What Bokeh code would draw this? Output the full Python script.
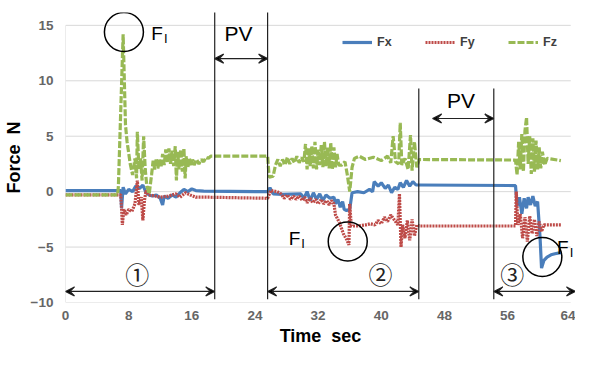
from bokeh.plotting import figure
from bokeh.models import (Range1d, FixedTicker, Legend, LegendItem, Arrow, VeeHead, Label)
from bokeh.embed import file_html
from bokeh.resources import INLINE

# ---- data ----
fx_t = [0, 7.0, 7.1, 7.3, 7.6, 8.0, 8.5, 8.9, 9.4, 9.8, 10.2, 10.6, 11.0, 11.5, 12.0, 12.3, 12.5, 13.0,
        13.5, 14.0, 14.5, 15.0, 15.5, 16.0, 16.5, 17.5, 25.6, 25.9, 26.3, 27.5, 29.8, 30.2, 30.6, 31.0,
        31.4, 31.8, 32.2, 32.6, 33.0, 33.5, 34.0, 34.2, 34.5, 34.8, 35.1, 35.3, 35.6, 36.0, 36.3, 37.0,
        37.8, 38.5, 38.9, 39.1, 39.6, 40.0, 40.5, 40.9, 41.3, 41.7, 42.1, 42.4, 42.8, 43.2, 43.6, 44.0,
        44.4, 44.8, 57.0, 57.2, 57.5, 57.8, 58.1, 58.4, 58.6, 58.9, 59.2, 59.5, 59.8, 60.1, 60.3, 60.6,
        61.0, 61.5, 62.0, 62.75]
fx = [0.1, 0.1, -1.5, 0.4, -0.2, 0.2, 0.0, 0.5, 0.3, 0.6, -0.1, -0.3, -0.4, -0.3, -0.6, -1.2, -0.4, -0.6,
      -0.3, -0.5, -0.1, 0.2, 0.0, 0.25, 0.1, 0.05, 0.0, 0.35, -0.2, -0.25, -0.2, -0.6, 0.0, -0.8,
      -0.1, -0.7, -0.2, -0.8, -0.3, -0.6, -0.5, -1.1, -0.7, -1.4, -0.9, -1.6, -1.7, -1.6, -0.1, 0.0,
      -0.1, 0.2, 0.0, 0.9, 0.5, 0.8, 0.3, 0.6, -0.1, 0.4, 0.2, 0.8, 0.4, 1.0, 0.5, 0.9,
      0.6, 0.6, 0.55, -1.3, -0.5, -2.0, -0.6, -1.5, -0.5, -1.2, -0.4, -1.3, -0.9, -4.0, -6.9, -6.2,
      -5.9, -5.7, -5.6, -5.5]

fy_t = [0, 7.0, 7.1, 7.2, 7.4, 7.7, 8.0, 8.4, 8.8, 9.1, 9.3, 9.6, 9.8, 10.0, 10.2, 10.5, 11.0, 12.0,
        13.0, 14.0, 14.5, 15.2, 15.8, 16.5, 18.0, 25.6, 26.0, 26.8, 27.3, 27.7, 28.1, 28.5, 28.9, 29.2,
        29.6, 30.0, 30.3, 30.6, 31.0, 31.3, 31.7, 32.0, 32.4, 32.7, 33.1, 33.4, 33.7, 34.0, 34.2, 34.7,
        35.2, 35.6, 35.9, 36.0, 36.2, 37.0, 38.0, 38.6, 39.2, 39.6, 40.0, 40.4, 40.8, 41.2, 41.6, 42.1,
        42.3, 42.5, 42.7, 43.0, 43.3, 43.6, 43.9, 44.2, 44.5, 44.8, 57.0, 57.1, 57.3, 57.6, 57.9, 58.2,
        58.5, 58.8, 59.1, 59.4, 59.7, 60.0, 60.3, 60.6, 62.75]
fy = [-0.3, -0.3, -1.5, -3.0, -1.6, -2.1, -1.6, -1.8, -1.1, 1.0, -1.2, -0.5, -2.6, -0.8, 0.1, -0.3, -0.35, -0.5,
      -0.4, -0.2, -0.5, -0.1, -0.3, -0.5, -0.5, -0.6, 0.1, 0.0, -0.2, -0.6, -0.3, -0.7, -0.4, -0.7,
      -0.4, -0.8, -0.5, -1.0, -0.6, -1.0, -0.7, -1.1, -0.7, -1.1, -0.8, -1.2, -0.8, -1.1, -2.1, -2.8,
      -3.8, -4.3, -4.8, -1.1, -3.1, -3.1, -3.0, -2.9, -3.0, -2.6, -2.9, -2.3, -2.7, -2.1, -2.5, -3.0,
      -0.2, -5.0, -3.0, -4.2, -2.6, -4.4, -2.5, -4.0, -3.0, -3.1, -3.1, 0.0, -3.0, -2.0, -4.2, -2.3,
      -4.5, -2.2, -3.8, -2.5, -4.0, -2.7, -3.6, -3.0, -3.0]

fz_t = [0, 6.6, 6.7, 7.3, 7.6, 7.8, 8.2, 8.5, 8.8, 9.0, 9.1, 9.3, 9.5, 9.7, 9.9, 10.1, 10.3, 10.6,
        10.9, 11.1, 11.3, 11.5, 11.7, 11.9, 12.1, 12.3, 12.5, 12.7, 12.9, 13.1, 13.3, 13.5, 13.7, 13.9,
        14.05, 14.2, 14.4, 14.6, 14.8, 15.0, 15.15, 15.3, 15.5, 15.7, 15.9, 16.1, 16.3, 16.6, 16.9, 17.2,
        17.5, 17.8, 18.1, 18.4, 25.6, 25.8, 26.3, 26.6, 26.9, 27.2, 27.5, 27.8, 28.1, 28.4, 28.7, 29.0,
        29.3, 29.6, 29.9, 30.2, 30.4, 30.6, 30.8, 31.0, 31.2, 31.4, 31.6, 31.8, 32.0, 32.2, 32.4, 32.6,
        32.8, 33.0, 33.2, 33.4, 33.6, 33.8, 34.0, 34.2, 34.4, 34.6, 35.0, 35.4, 35.7, 36.0, 36.3, 36.6,
        37.2, 38.0, 39.0, 40.0, 40.8, 41.2, 41.5, 41.8, 42.2, 42.4, 42.6, 43.0, 43.4, 43.7, 43.9, 44.2,
        44.5, 44.8, 57.0, 57.2, 57.4, 57.6, 57.8, 58.0, 58.2, 58.4, 58.6, 58.8, 59.0, 59.2, 59.4, 59.6,
        59.8, 60.0, 60.2, 60.4, 60.7, 61.0, 62.75]
fz = [-0.3, -0.3, 0.5, 14.2, 6.0, 4.5, 2.5, 1.5, 3.0, 1.2, 5.4, 2.0, 3.0, 1.0, 5.0, 2.0, 0.5, -0.2,
      1.5, 2.8, 2.0, 3.0, 2.1, 2.9, 2.2, 3.4, 2.4, 3.8, 2.6, 3.9, 2.5, 3.7, 2.3, 4.1,
      1.0, 3.6, 2.0, 3.8, 1.8, 3.9, 1.2, 3.2, 2.2, 3.0, 2.3, 2.9, 2.4, 2.9, 2.5, 2.9,
      2.7, 3.1, 3.0, 3.2, 3.2, 1.3, 1.4, 2.4, 2.9, 2.3, 2.9, 2.4, 3.1, 2.5, 3.0, 2.6,
      3.2, 2.6, 3.1, 2.7, 4.3, 2.0, 3.9, 2.3, 4.1, 2.1, 4.5, 2.0, 3.8, 2.4, 4.2, 2.2,
      4.5, 2.3, 4.0, 2.1, 4.4, 2.0, 4.0, 2.2, 3.4, 2.4, 2.4, 2.7, 1.5, 0.0, 2.2, 3.0,
      3.2, 2.9, 3.1, 2.8, 3.2, 2.6, 5.0, 2.7, 2.5, 6.2, 2.4, 3.0, 2.0, 5.1, 1.9, 4.5,
      2.2, 2.9, 2.85, 1.5, 4.5, 2.0, 5.2, 1.8, 5.5, 6.7, 2.5, 5.0, 1.6, 4.8, 1.8, 4.6,
      2.0, 4.0, 2.1, 3.6, 2.4, 3.0, 2.8]

x_ticks = [0, 8, 16, 24, 32, 40, 48, 56, 64]
y_ticks = [-10, -5, 0, 5, 10, 15]

# phase boundaries (time, s) and annotations
bounds = [18.9, 25.6, 44.75, 54.25]
bound_tops = [16.2, 16.2, 9.3, 9.3]
pv_arrows = [(18.9, 25.6, 12.0), (46.5, 54.25, 6.6)]
pv_labels = [(21.9, 14.3), (50.1, 8.2)]
phase_arrows = [(0, 18.9), (25.6, 44.75), (54.25, 64.6)]
phase_y = -9.0
phase_marks = ["①", "②", "③"]
phase_mark_x = [9.1, 39.9, 56.6]
circle_t = [7.4, 35.75, 60.4]
circle_y = [14.4, -4.5, -5.9]
fi_pos = [(11.6, 14.3), (29.0, -4.2), (63.0, -5.0)]

BLUE = "#4a7ebb"
RED = "#be4b48"
GREEN = "#98b954"
GRID = "#d9d9d9"

p = figure(width=575, height=349, output_backend="svg", toolbar_location=None,
           x_range=Range1d(0, 64.6), y_range=Range1d(-10, 16.16),
           min_border_left=65, min_border_right=0, min_border_top=12, min_border_bottom=47)
p.outline_line_color = None
p.xgrid.visible = False
p.ygrid.visible = False

# grid lines (stop at 64 like the original) and left axis line
p.segment(x0=[0] * len(y_ticks), x1=[64] * len(y_ticks), y0=y_ticks, y1=y_ticks,
          line_color=GRID, line_width=1)
p.segment(x0=[0], x1=[0], y0=[-10], y1=[15], line_color=GRID, line_width=1)

for ax in (p.xaxis[0], p.yaxis[0]):
    ax.axis_line_color = None
    ax.major_tick_line_color = None
    ax.minor_tick_line_color = None
    ax.major_tick_out = 0
    ax.major_tick_in = 0
    ax.major_label_text_font = "Liberation Sans"
    ax.major_label_text_font_style = "bold"
    ax.major_label_text_font_size = "13.5px"
    ax.major_label_text_color = "#666666"
    ax.axis_label_text_font = "Liberation Sans"
    ax.axis_label_text_font_style = "bold"
    ax.axis_label_text_font_size = "18px"
    ax.axis_label_text_color = "black"

p.xaxis[0].ticker = FixedTicker(ticks=x_ticks)
p.yaxis[0].ticker = FixedTicker(ticks=y_ticks)
p.xaxis[0].axis_label = "Time\u00a0\u00a0sec"
p.yaxis[0].axis_label = "Force\u00a0\u00a0N"
p.xaxis[0].major_label_standoff = 8
p.xaxis[0].axis_label_standoff = 3
p.yaxis[0].major_label_standoff = 12
p.yaxis[0].axis_label_standoff = 4

r_fx = p.line(fx_t, fx, line_color=BLUE, line_width=3.2)
r_fy = p.line(fy_t, fy, line_color=RED, line_width=3.2, line_dash="2 1")
r_fz = p.line(fz_t, fz, line_color=GREEN, line_width=3.2, line_dash="7 2")

# phase boundaries
p.segment(x0=bounds, x1=bounds, y0=[-9.7] * len(bounds), y1=bound_tops,
          line_color="#222222", line_width=1.2)

for x0, x1, yy in pv_arrows:
    p.add_layout(Arrow(x_start=x0, x_end=x1, y_start=yy, y_end=yy, line_width=1.2,
                       line_color="#222222",
                       start=VeeHead(size=9, line_width=1.2, line_color="#222222"),
                       end=VeeHead(size=9, line_width=1.2, line_color="#222222")))
for (lx, ly) in pv_labels:
    p.add_layout(Label(x=lx, y=ly, text="PV", text_align="center", text_baseline="middle",
                       text_font="Liberation Sans", text_font_size="21px", text_color="black"))

for (x0, x1), mx, mk in zip(phase_arrows, phase_mark_x, phase_marks):
    p.add_layout(Arrow(x_start=x0, x_end=x1, y_start=phase_y, y_end=phase_y, line_width=1.2,
                       line_color="#222222",
                       start=VeeHead(size=9, line_width=1.2, line_color="#222222"),
                       end=VeeHead(size=9, line_width=1.2, line_color="#222222")))
    p.add_layout(Label(x=mx, y=-7.4, text=mk, text_align="center", text_baseline="middle",
                       text_font="Noto Sans CJK JP", text_font_size="24px", text_color="#222222"))

p.scatter(circle_t, circle_y, marker="circle", size=39, fill_color=None,
          line_color="black", line_width=1.5)
for (fx0, fy0) in fi_pos:
    p.add_layout(Label(x=fx0, y=fy0, text="F", text_align="center", text_baseline="middle",
                       text_font="Liberation Sans", text_font_size="19px", text_color="black"))
    p.add_layout(Label(x=fx0 + 1.1, y=fy0 - 0.45, text="I", text_align="center",
                       text_baseline="middle", text_font="Liberation Sans",
                       text_font_size="13px", text_color="black"))

legend = Legend(items=[LegendItem(label="Fx", renderers=[r_fx]),
                       LegendItem(label="Fy", renderers=[r_fy]),
                       LegendItem(label="Fz", renderers=[r_fz])],
                orientation="horizontal", location=(277, 253),
                border_line_color=None, background_fill_alpha=0,
                padding=0, margin=0, spacing=28, glyph_width=30, glyph_height=14,
                label_height=14, label_standoff=5,
                label_text_font="Liberation Sans", label_text_font_size="12.5px",
                label_text_font_style="bold", label_text_color="#404040")
p.add_layout(legend)

open("out.html", "w").write(file_html(p, INLINE))
